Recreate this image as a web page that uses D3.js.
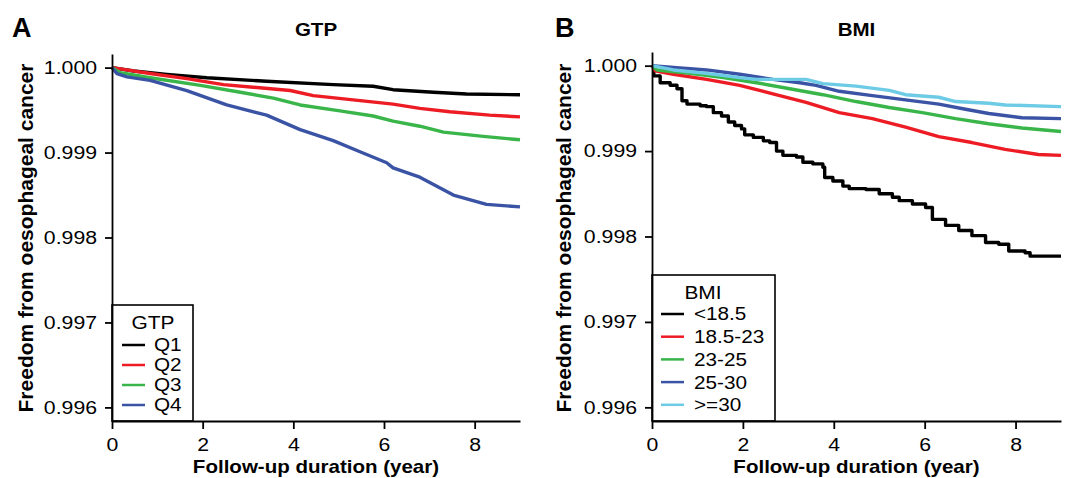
<!DOCTYPE html>
<html>
<head>
<meta charset="utf-8">
<script src="https://cdn.jsdelivr.net/npm/d3@7"></script>
<style>
  body { margin: 0; background: #fff; }
  svg { font-family: "Liberation Sans", Arial, sans-serif; }
</style>
</head>
<body>
<script>
// survival curves: [year, survival]
var gtpQ1 = [[0,1],[0.48,0.99996],[1.21,0.99992],[2.09,0.99988],[3.41,0.99984],[4.88,0.99980],[5.76,0.99978],[6.20,0.99974],[7.09,0.99971],[7.82,0.99969],[9.0,0.99968]];
var gtpQ2 = [[0,1],[0.84,0.99993],[1.65,0.99987],[2.46,0.99980],[3.93,0.99973],[4.44,0.99967],[6.20,0.99957],[6.79,0.99952],[7.45,0.99948],[8.33,0.99944],[9.0,0.99942]];
var gtpQ3 = [[0,1],[0.18,0.99994],[0.84,0.99988],[1.95,0.99979],[2.83,0.99971],[3.56,0.99964],[4.15,0.99956],[5.03,0.99949],[5.76,0.99943],[6.20,0.99937],[6.79,0.99931],[7.31,0.99924],[8.19,0.99919],[9.0,0.99915]];
var gtpQ4 = [[0,1],[0.11,0.99993],[0.33,0.99989],[0.84,0.99985],[1.65,0.99973],[2.53,0.99956],[3.41,0.99944],[4.15,0.99927],[4.88,0.99914],[5.47,0.99901],[6.06,0.99888],[6.20,0.99882],[6.79,0.99871],[7.53,0.99850],[8.26,0.99839],[9.0,0.99836]];

var bmi1 = [[0,1],[0.04,0.99988],[0.18,0.99980],[0.40,0.99977],[0.55,0.99973],[0.66,0.99959],[0.77,0.99955],[1.06,0.99953],[1.20,0.99952],[1.35,0.99945],[1.53,0.99941],[1.68,0.99934],[1.82,0.99930],[1.97,0.99926],[2.04,0.99919],[2.23,0.99916],[2.45,0.99912],[2.59,0.99910],[2.74,0.99900],[2.88,0.99895],[3.18,0.99893],[3.32,0.99887],[3.54,0.99885],[3.76,0.99881],[3.80,0.99869],[3.98,0.99865],[4.20,0.99859],[4.34,0.99856],[4.71,0.99855],[5.00,0.99850],[5.29,0.99846],[5.44,0.99842],[5.73,0.99838],[6.02,0.99834],[6.17,0.99820],[6.46,0.99813],[6.75,0.99807],[7.04,0.99801],[7.34,0.99793],[7.63,0.99791],[7.85,0.99783],[8.21,0.99781],[8.32,0.99777],[9.0,0.99777]];
var bmi2 = [[0,1],[0.07,0.99994],[0.47,0.99990],[1.20,0.99984],[1.93,0.99977],[2.66,0.99967],[3.39,0.99957],[4.12,0.99945],[4.85,0.99938],[5.58,0.99928],[6.31,0.99917],[7.04,0.99910],[7.77,0.99902],[8.50,0.99896],[9.0,0.99895]];
var bmi3 = [[0,1],[0.11,0.99995],[0.84,0.99991],[1.57,0.99986],[2.30,0.99980],[3.03,0.99973],[3.76,0.99966],[4.49,0.99958],[5.22,0.99951],[5.95,0.99945],[6.68,0.99938],[7.41,0.99932],[8.14,0.99927],[9.0,0.99923]];
var bmi4 = [[0,1],[0.47,0.99998],[1.20,0.99995],[1.93,0.99990],[2.66,0.99984],[3.25,0.99980],[3.61,0.99977],[4.12,0.99970],[4.85,0.99965],[5.58,0.99960],[6.31,0.99955],[6.90,0.99949],[7.41,0.99944],[8.14,0.99939],[9.0,0.99938]];
var bmi5 = [[0,1],[0.47,0.99995],[1.20,0.99991],[1.93,0.99986],[2.30,0.99984],[3.39,0.99984],[3.76,0.99979],[4.49,0.99976],[5.22,0.99971],[5.58,0.99966],[6.31,0.99963],[6.68,0.99958],[7.41,0.99956],[7.77,0.99954],[9.0,0.99952]];

var gtpLabels = ["Q1", "Q2", "Q3", "Q4"];
var bmiLabels = ["<18.5", "18.5-23", "23-25", "25-30", ">=30"];
var xTicks = [0, 2, 4, 6, 8];
var yTicks = [0.996, 0.997, 0.998, 0.999, 1.000];

var colors = ["#000000", "#ed1c24", "#39b54a", "#3a53a4", "#6dcbe5"];

var svg = d3.select("body").append("svg")
    .attr("width", 1065)
    .attr("height", 478);

// the figure's lettering is a bit wider than Arial, widen text horizontally
function widen(sel, k) {
    sel.each(function () {
        var w = this.getComputedTextLength();
        d3.select(this).attr("textLength", w * k).attr("lengthAdjust", "spacingAndGlyphs");
    });
}

function drawPanel(p) {
    var x = d3.scaleLinear().domain([0, 9]).range([p.left, p.right]);
    var y = d3.scaleLinear().domain([0.99584, 1.00016]).range([421, p.top]);

    var g = svg.append("g");

    // panel letter + title
    g.append("text")
        .attr("x", p.letterX).attr("y", 37)
        .style("font-size", "27px").style("font-weight", "bold")
        .text(p.letter);
    g.append("text")
        .attr("x", (p.left + p.right) / 2).attr("y", 36)
        .attr("text-anchor", "middle")
        .style("font-size", "19px").style("font-weight", "bold")
        .text(p.title)
        .call(widen, 1.08);

    // curves
    var line = d3.line()
        .x(function (d) { return x(d[0]); })
        .y(function (d) { return y(d[1]); });

    p.series.forEach(function (s, i) {
        g.append("path")
            .datum(s)
            .attr("fill", "none")
            .attr("stroke", colors[i])
            .attr("stroke-width", 3.4)
            .attr("stroke-linejoin", "round")
            .attr("d", line.curve(p.steps[i] ? d3.curveStepAfter : d3.curveLinear));
    });

    // legend
    var lg = g.append("g");
    lg.append("rect")
        .attr("x", p.left).attr("y", p.legTop)
        .attr("width", p.legW).attr("height", 421 - p.legTop)
        .attr("fill", "#fff").attr("stroke", "#000").attr("stroke-width", 1.6);
    lg.append("text")
        .attr("x", p.legTitleX).attr("y", p.legTop + 24)
        .attr("text-anchor", "middle")
        .style("font-size", "19px")
        .text(p.title)
        .call(widen, 1.1);
    var items = lg.selectAll(".item")
        .data(p.labels)
        .enter().append("g")
        .attr("transform", function (d, i) { return "translate(0," + (p.legRow0 + i * p.legStep) + ")"; });
    items.append("line")
        .attr("x1", p.left + p.lineX0).attr("x2", p.left + p.lineX1)
        .attr("stroke", function (d, i) { return colors[i]; })
        .attr("stroke-width", 2.5);
    items.append("text")
        .attr("x", p.left + p.textX).attr("dy", "0.36em")
        .style("font-size", "18px")
        .text(function (d) { return d; })
        .call(widen, 1.15);

    // axes
    var xAxis = d3.axisBottom(x).tickValues(xTicks).tickSize(8).tickSizeOuter(0).tickPadding(9);
    var xg = g.append("g")
        .attr("transform", "translate(0,421)")
        .call(xAxis);
    var yAxis = d3.axisLeft(y).tickValues(yTicks).tickSize(7).tickSizeOuter(0).tickPadding(8)
        .tickFormat(d3.format(".3f"));
    var yg = g.append("g")
        .attr("transform", "translate(" + p.left + ",0)")
        .call(yAxis);
    [xg, yg].forEach(function (a) {
        a.attr("font-family", null).attr("font-size", null);
        a.selectAll("path, line").attr("stroke", "#000").attr("stroke-width", 1.8);
        a.selectAll("text").style("font-size", "18px").attr("fill", "#000")
            .call(widen, 1.18);
    });

    g.append("text")
        .attr("x", (p.left + p.right) / 2).attr("y", 473)
        .attr("text-anchor", "middle")
        .style("font-size", "19px").style("font-weight", "bold")
        .text("Follow-up duration (year)")
        .call(widen, 1.08);
    g.append("text")
        .attr("transform", "translate(" + p.yLabX + ",238) rotate(-90)")
        .attr("text-anchor", "middle")
        .style("font-size", "21px").style("font-weight", "bold")
        .text("Freedom from oesophageal cancer");
}

drawPanel({
    letter: "A", letterX: 12, title: "GTP",
    left: 112, right: 520, top: 54, yLabX: 33,
    series: [gtpQ1, gtpQ2, gtpQ3, gtpQ4], steps: [false, false, false, false],
    labels: gtpLabels,
    legTop: 305, legW: 81, legTitleX: 153, legRow0: 345, legStep: 20,
    lineX0: 10, lineX1: 33, textX: 42
});

drawPanel({
    letter: "B", letterX: 555, title: "BMI",
    left: 652, right: 1061, top: 52, yLabX: 571,
    series: [bmi1, bmi2, bmi3, bmi4, bmi5], steps: [true, false, false, false, false],
    labels: bmiLabels,
    legTop: 275, legW: 123, legTitleX: 703, legRow0: 314, legStep: 22.7,
    lineX0: 9, lineX1: 32, textX: 42
});
</script>
</body>
</html>
